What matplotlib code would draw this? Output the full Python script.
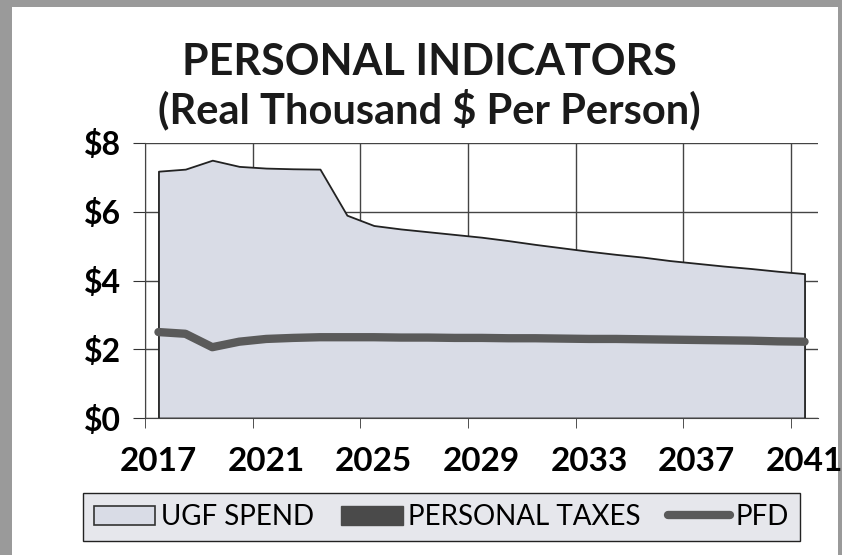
import matplotlib.pyplot as plt
from matplotlib.patches import Patch, Rectangle
from matplotlib.lines import Line2D

years = list(range(2017, 2042))
ugf_spend = [7.18, 7.24, 7.50, 7.32, 7.27, 7.25, 7.24, 5.90, 5.60, 5.50,
             5.42, 5.34, 5.26, 5.16, 5.05, 4.95, 4.85, 4.76, 4.68, 4.58,
             4.50, 4.42, 4.35, 4.27, 4.20]
personal_taxes = [0.0] * 25
pfd = [2.50, 2.45, 2.06, 2.22, 2.30, 2.33, 2.35, 2.35, 2.35, 2.34,
       2.34, 2.33, 2.33, 2.32, 2.32, 2.31, 2.30, 2.30, 2.29, 2.28,
       2.27, 2.26, 2.25, 2.23, 2.22]
y_ticks = [0, 2, 4, 6, 8]
y_labels = ['$0', '$2', '$4', '$6', '$8']
x_labels = [2017, 2021, 2025, 2029, 2033, 2037, 2041]

plt.rcParams['font.family'] = ['Lato', 'DejaVu Sans']

fig = plt.figure(figsize=(8.42, 5.55), dpi=100)
fig.patch.set_facecolor('#9a9a9a')
bg = Rectangle((12 / 842, 0), 826 / 842, 548 / 555, transform=fig.transFigure,
               facecolor='white', edgecolor='none', zorder=-10)
fig.add_artist(bg)

ax = fig.add_axes([145 / 842, 1 - 418 / 555, 673 / 842, 275 / 555])
ax.set_facecolor('none')
ax.set_zorder(1)

fill_c = '#d9dce6'
ax.fill_between(years, 0, ugf_spend, facecolor=fill_c, edgecolor='#222222',
                linewidth=1.3, zorder=2)
ax.fill_between(years, 0, personal_taxes, facecolor='#4a4a4a', zorder=3)
ax.plot(years, pfd, color='#5a5a5a', linewidth=6, solid_capstyle='round', zorder=4)

ax.set_xlim(2016.5, 2041.5)
ax.set_ylim(0, 8)
ax.set_yticks(y_ticks)
ax.set_yticklabels(y_labels, fontsize=23, fontweight='bold')
ax.set_xticks(x_labels)
ax.set_xticklabels([str(x) for x in x_labels], fontsize=24, fontweight='bold')
ax.set_xticks([2016.5 + 4 * k for k in range(7)], minor=True)
ax.tick_params(axis='x', which='major', length=0, pad=21)
ax.tick_params(axis='x', which='minor', length=7, direction='out', color='#333333')
ax.tick_params(axis='y', length=9, direction='out', color='#333333', pad=8)
ax.grid(axis='y', color='#444444', linewidth=1)
ax.grid(axis='x', which='minor', color='#444444', linewidth=1)
for s in ['top', 'right']:
    ax.spines[s].set_visible(False)
for s in ['left', 'bottom']:
    ax.spines[s].set_color('#444444')

fig.text(0.51, 0.888, 'PERSONAL INDICATORS', ha='center', va='center',
         fontsize=31, fontweight='bold', color='#1a1a1a')
fig.text(0.51, 0.802, '(Real Thousand $ Per Person)', ha='center', va='center',
         fontsize=30, fontweight='bold', color='#1a1a1a')

handles = [Patch(facecolor=fill_c, edgecolor='#333333', linewidth=1.2),
           Patch(facecolor='#4a4a4a', edgecolor='#4a4a4a'),
           Line2D([0], [0], color='#5a5a5a', linewidth=6, solid_capstyle='round')]
leg = fig.legend(handles, ['UGF SPEND', 'PERSONAL TAXES', 'PFD'], ncol=3,
                 loc='lower center', bbox_to_anchor=(0.524, 0.0), fontsize=20,
                 frameon=True, fancybox=False, handlelength=2.2,
                 handletextpad=0.2, columnspacing=1.0, borderpad=0.4)
leg.get_frame().set_facecolor('#e6e7ec')
leg.get_frame().set_edgecolor('#222222')
leg.get_frame().set_alpha(1)

fig.savefig('out.png', dpi=100, facecolor=fig.get_facecolor())
